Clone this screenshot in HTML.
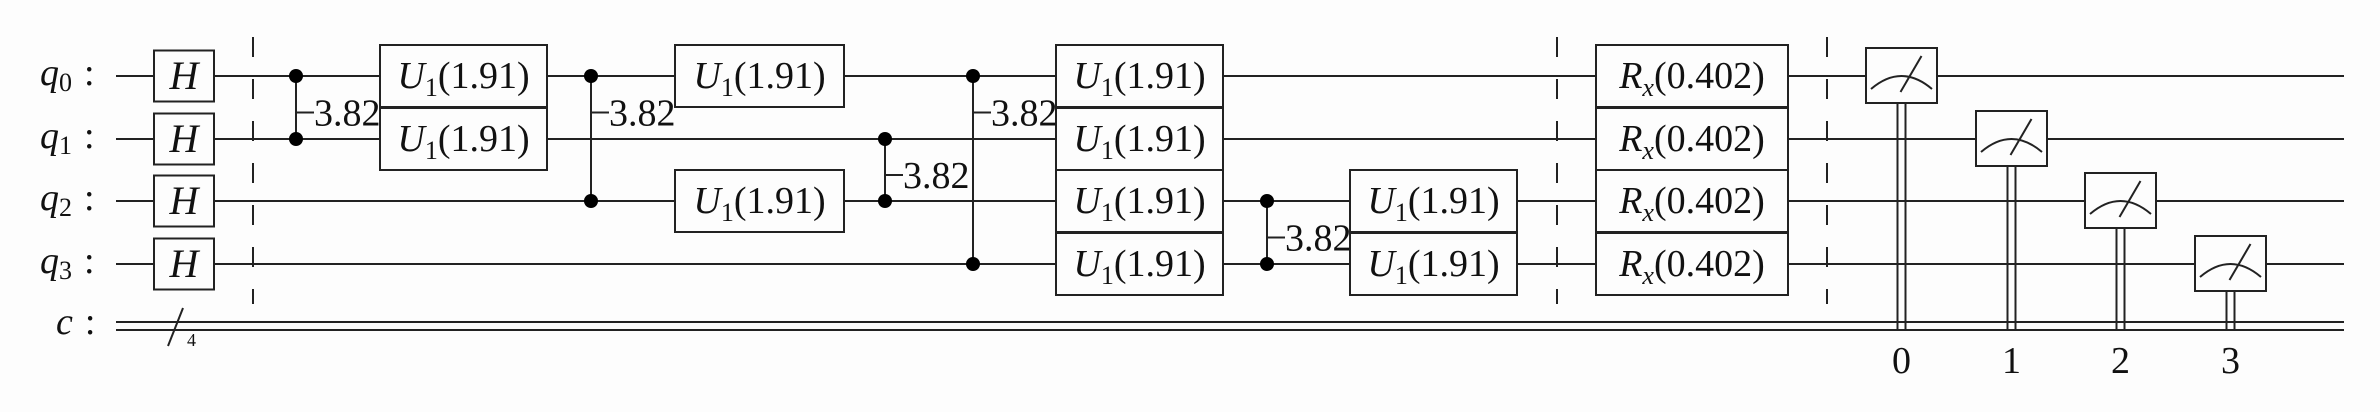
<!DOCTYPE html>
<html><head><meta charset="utf-8"><style>
html,body{margin:0;padding:0;background:#fdfdfd;}
svg{display:block;}
text{font-family:"Liberation Serif","DejaVu Serif",serif;fill:#111;}
</style></head><body>
<svg id="c" width="2380" height="412" viewBox="0 0 2380 412" xmlns="http://www.w3.org/2000/svg"></svg>
<script>
const qubits = ["0","1","2","3"];
const wireY = [76, 139, 201, 264];
const cY1 = 322, cY2 = 330;
const hGates = [[0,154,214],[1,154,214],[2,154,214],[3,154,214]];
const uGates = [[0,380,547],[1,380,547],[0,675,844],[2,675,844],[0,1056,1223],[1,1056,1223],[2,1056,1223],[3,1056,1223],[2,1350,1517],[3,1350,1517]];
const uParam = "1.91";
const rxGates = [[0,1596,1788],[1,1596,1788],[2,1596,1788],[3,1596,1788]];
const rxParam = "0.402";
const cpGates = [[0,1,296],[0,2,591],[1,2,885],[0,3,973],[2,3,1267]];
const cpParam = "3.82";
const barriers = [253, 1557, 1827];
const measures = [[0,1866],[1,1976],[2,2085],[3,2195]];
const NS = "http://www.w3.org/2000/svg";
const svg = document.getElementById('c');
function mk(tag, attrs, parent){const e=document.createElementNS(NS,tag);for(const k in attrs)e.setAttribute(k,attrs[k]);(parent||svg).appendChild(e);return e;}
qubits.forEach((q,i)=>{
  const g=mk('g',{});
  
  
  mk('line',{x1:116,y1:wireY[i],x2:2344,y2:wireY[i],stroke:'#222','stroke-width':2},g);
  const t=mk('text',{x:40,y:wireY[i]+9,'font-size':38,'font-style':'italic'},g);
  
  
  t.innerHTML='q<tspan font-size="26" font-style="normal" dy="6">'+q+'</tspan><tspan dy="-6" font-style="normal" dx="12">:</tspan>';
});
{const g=mk('g',{});


mk('line',{x1:116,y1:cY1,x2:2344,y2:cY1,stroke:'#222','stroke-width':2},g);
mk('line',{x1:116,y1:cY2,x2:2344,y2:cY2,stroke:'#222','stroke-width':2},g);
mk('line',{x1:168,y1:346,x2:183,y2:308,stroke:'#222','stroke-width':2},g);
const t4=mk('text',{x:187,y:346,'font-size':18},g);t4.textContent='4';
const tc=mk('text',{x:56,y:334,'font-size':38,'font-style':'italic'},g);tc.innerHTML='c<tspan font-style="normal" dx="12">:</tspan>';}
barriers.forEach((x,i)=>{
  const l=mk('line',{x1:x,y1:37,x2:x,y2:304,stroke:'#222','stroke-width':2,'stroke-dasharray':'20,22'});
  
  
});
function box(q,x0,x1,name,h){
  const y0=wireY[q]-h/2;
  const g=mk('g',{});
  
  
  mk('rect',{x:x0,y:y0,width:x1-x0,height:h,fill:'#fdfdfd',stroke:'#222','stroke-width':2},g);
  return g;
}
hGates.forEach(([q,x0,x1])=>{
  const g=box(q,x0,x1,'h-gate-q'+q,51);
  const t=mk('text',{x:(x0+x1)/2,y:wireY[q]+13,'font-size':40,'font-style':'italic','text-anchor':'middle'},g);t.textContent='H';
});
uGates.forEach(([q,x0,x1],i)=>{
  const g=box(q,x0,x1,'u1-gate-'+i,62);
  const t=mk('text',{x:(x0+x1)/2,y:wireY[q]+12,'font-size':38,'text-anchor':'middle'},g);
  t.innerHTML='<tspan font-style="italic">U</tspan><tspan font-size="26" dy="8">1</tspan><tspan dy="-8">('+uParam+')</tspan>';
});
rxGates.forEach(([q,x0,x1])=>{
  const g=box(q,x0,x1,'rx-gate-q'+q,62);
  const t=mk('text',{x:(x0+x1)/2,y:wireY[q]+12,'font-size':38,'text-anchor':'middle'},g);
  t.innerHTML='<tspan font-style="italic">R</tspan><tspan font-size="26" font-style="italic" dy="8">x</tspan><tspan dy="-8">('+rxParam+')</tspan>';
});
cpGates.forEach(([a,b,x],i)=>{
  const g=mk('g',{});
  
  
  mk('line',{x1:x,y1:wireY[a],x2:x,y2:wireY[b],stroke:'#222','stroke-width':2},g);
  mk('circle',{cx:x,cy:wireY[a],r:7,fill:'#000'},g);
  mk('circle',{cx:x,cy:wireY[b],r:7,fill:'#000'},g);
  const ym=(wireY[a]+wireY[a+1])/2+5;
  mk('line',{x1:x,y1:ym,x2:x+18,y2:ym,stroke:'#222','stroke-width':2},g);
  const t=mk('text',{x:x+18,y:ym+13,'font-size':38},g);t.textContent=cpParam;
});
measures.forEach(([q,x0],i)=>{
  const x1=x0+71, cx=(x0+x1)/2, y0=wireY[q]-28, y1=wireY[q]+27;
  const g=mk('g',{});
  
  
  mk('line',{x1:cx-4,y1:y1,x2:cx-4,y2:cY2,stroke:'#222','stroke-width':2},g);
  mk('line',{x1:cx+4,y1:y1,x2:cx+4,y2:cY2,stroke:'#222','stroke-width':2},g);
  mk('rect',{x:x0,y:y0,width:71,height:55,fill:'#fdfdfd',stroke:'#222','stroke-width':2},g);
  mk('path',{d:`M${x0+5},${y0+41} Q${cx},${y0+15} ${x1-5},${y0+41}`,fill:'none',stroke:'#222','stroke-width':2},g);
  mk('line',{x1:cx-1,y1:y0+44,x2:cx+20,y2:y0+8,stroke:'#222','stroke-width':2},g);
  const t=mk('text',{x:cx,y:373,'font-size':38,'text-anchor':'middle'});
  
  
  t.textContent=String(i);
});
</script>
</body></html>
